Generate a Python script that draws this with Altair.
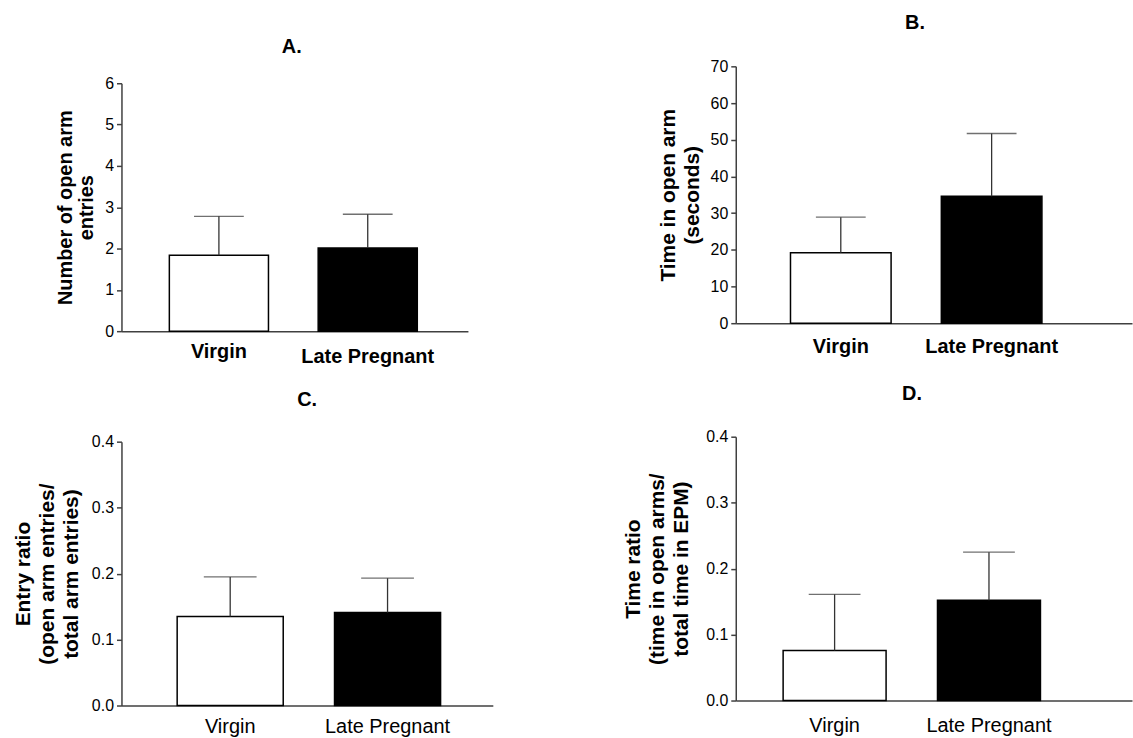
import altair as alt
import pandas as pd

# ---- data ----
groups = ["Virgin", "Late Pregnant"]
bar_fills = ["white", "black"]

a_mean = [1.84, 2.01]
a_err = [0.94, 0.82]
b_mean = [19.2, 34.6]
b_err = [9.7, 17.1]
c_mean = [0.135, 0.141]
c_err = [0.060, 0.052]
d_mean = [0.076, 0.152]
d_err = [0.085, 0.073]

a_ticks = [0, 1, 2, 3, 4, 5, 6]
b_ticks = [0, 10, 20, 30, 40, 50, 60, 70]
ratio_ticks = [0.0, 0.1, 0.2, 0.3, 0.4]

FONT = "Liberation Sans"
AXIS_COLOR = "#404040"
ERR_COLOR = "#333333"


def panel(means, errs, yticks, yfmt, ytitle, title, w, h, band, cap,
          label_weight, label_pad, ytitle_size, ytitle_lh, ytitle_pad):
    df = pd.DataFrame({
        "group": groups,
        "mean": means,
        "upper": [m + e for m, e in zip(means, errs)],
        "fill": bar_fills,
    })
    xs = alt.Scale(domain=groups, paddingInner=band[0], paddingOuter=band[1], align=band[2])
    xa = alt.Axis(title=None, ticks=False, labelAngle=0, labelFont=FONT, labelFontSize=20,
                  labelFontWeight=label_weight, labelColor="black", labelPadding=label_pad,
                  domainColor=AXIS_COLOR, domainWidth=1.5, labelLimit=400)
    ys = alt.Scale(domain=[yticks[0], yticks[-1]], nice=False, zero=True)
    ya = alt.Axis(title=ytitle, values=yticks, format=yfmt, tickSize=5, tickColor=AXIS_COLOR,
                  tickWidth=1.5, domainColor=AXIS_COLOR, domainWidth=1.5, grid=False,
                  labelFont=FONT, labelFontSize=16, labelColor="black", labelPadding=3,
                  titleFont=FONT, titleFontSize=ytitle_size, titleFontWeight="bold",
                  titleColor="black", titleLineHeight=ytitle_lh, titlePadding=ytitle_pad)
    x = alt.X("group:N", scale=xs, axis=xa, sort=groups)
    base = alt.Chart(df)
    bars = base.mark_bar(stroke="black", strokeWidth=1.5).encode(
        x=x, y=alt.Y("mean:Q", scale=ys, axis=ya), fill=alt.Fill("fill:N", scale=None))
    rule = base.mark_rule(color=ERR_COLOR, strokeWidth=1.3).encode(
        x=x, y=alt.Y("mean:Q", scale=ys, axis=ya), y2="upper:Q")
    capm = base.mark_tick(color=ERR_COLOR, thickness=1.3, size=cap).encode(
        x=x, y=alt.Y("upper:Q", scale=ys, axis=ya))
    chart = alt.layer(bars, rule, capm).properties(width=w, height=h)
    if title is not None:
        chart = chart.properties(title=title)
    return chart


def ttl(text, offset, dx=0):
    return alt.TitleParams(text=text, fontSize=20, font=FONT, fontWeight="bold",
                           color="black", offset=offset, anchor="middle", dx=dx)


# header carrying the "A." title (panel A sits lower than panel B in the figure)
header_a = alt.Chart(pd.DataFrame({"k": [0]})).mark_point(opacity=0, size=1).encode(
    x=alt.value(174), y=alt.value(0)
).properties(width=348, height=1, title=ttl("A.", 9, -3))

a_label_pad = {"condition": {"test": "datum.label == 'Late Pregnant'", "value": 15}, "value": 10}

pA = panel(a_mean, a_err, a_ticks, "d", ["Number of open arm", "entries"],
           None, 348, 249, (0.334, 0.331, 0.486), 50, "bold",
           a_label_pad, 20, 21, 8)
pB = panel(b_mean, b_err, b_ticks, "d", ["Time in open arm", "(seconds)"],
           ttl("B.", 25, -19), 398, 258, (0.333, 0.48, 0.378), 50, "bold", 13, 21, 24, 8)
pC = panel(c_mean, c_err, ratio_ticks, ".1f",
           ["Entry ratio", "(open arm entries/", "total arm entries)"],
           ttl("C.", 24), 373, 265, (0.326, 0.343, 0.516), 53, "normal", 11, 21, 24, 10)
pD = panel(d_mean, d_err, ratio_ticks, ".1f",
           ["Time ratio", "(time in open arms/", "total time in EPM)"],
           ttl("D.", 25, -22), 398, 265, (0.333, 0.45, 0.341), 52, "normal", 15, 21, 24, 14)

col_left = alt.vconcat(alt.vconcat(header_a, pA, spacing=8), pC, spacing=24)
col_right = alt.vconcat(pB, pD, spacing=28)

chart = alt.hconcat(col_left, col_right, spacing=130).configure(font=FONT).configure_view(
    stroke=None
).properties(
    padding={"left": 12, "top": 12, "right": 1, "bottom": 0},
    background="white",
)

chart.save("out.html", embed_options={"renderer": "svg", "actions": False})
